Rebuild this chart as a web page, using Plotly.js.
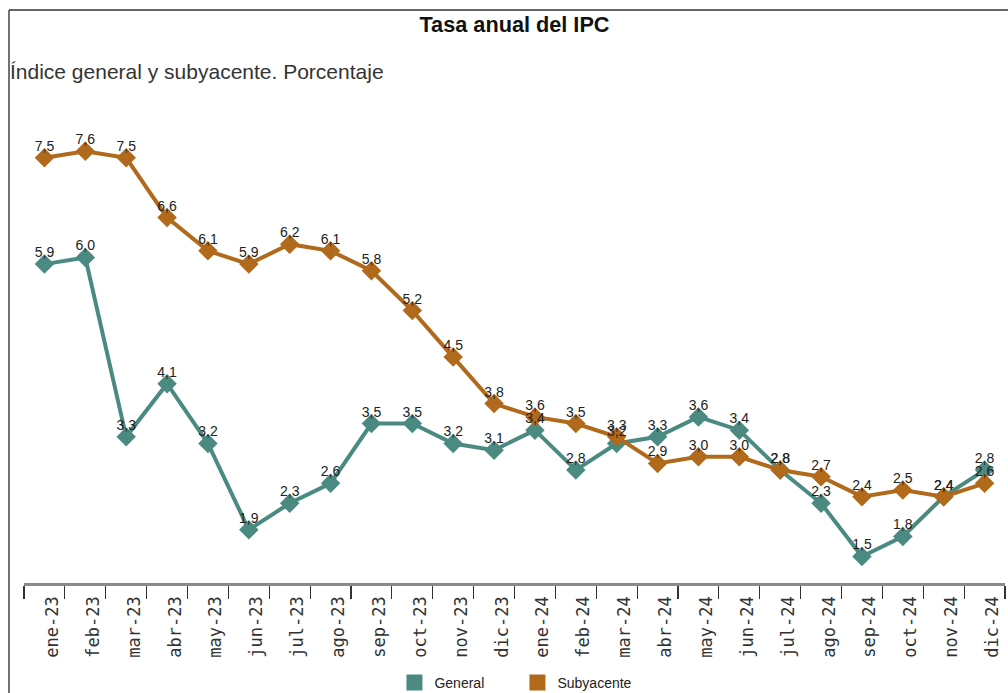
<!DOCTYPE html>
<html><head><meta charset="utf-8">
<script src="https://cdn.plot.ly/plotly-3.0.1.min.js"></script>
<style>html,body{margin:0;padding:0;background:#fff}#chart{width:1008px;height:693px}</style>
</head><body><div id="chart"></div>
<script>
const months = ["ene-23","feb-23","mar-23","abr-23","may-23","jun-23","jul-23","ago-23","sep-23","oct-23","nov-23","dic-23",
                "ene-24","feb-24","mar-24","abr-24","may-24","jun-24","jul-24","ago-24","sep-24","oct-24","nov-24","dic-24"];
const general = [5.9,6.0,3.3,4.1,3.2,1.9,2.3,2.6,3.5,3.5,3.2,3.1,3.4,2.8,3.2,3.3,3.6,3.4,2.8,2.3,1.5,1.8,2.4,2.8];
const subyacente = [7.5,7.6,7.5,6.6,6.1,5.9,6.2,6.1,5.8,5.2,4.5,3.8,3.6,3.5,3.3,2.9,3.0,3.0,2.8,2.7,2.4,2.5,2.4,2.6];
const cGeneral = "#4b8a81";
const cSub = "#b1691b";

function lineTrace(name, y, color){
  return {type:"scatter", mode:"lines+markers", name:name, x:months, y:y,
    line:{color:color, width:4},
    marker:{symbol:"diamond", size:15, color:color},
    showlegend:false, cliponaxis:false, hoverinfo:"x+y"};
}
function labelTrace(y){
  return {type:"scatter", mode:"markers+text", x:months, y:y,
    marker:{size:4, opacity:0},
    texttemplate:"%{y:.1f}", textposition:"top center",
    textfont:{family:"Liberation Sans, Arial, sans-serif", size:14, color:"#222"},
    showlegend:false, cliponaxis:false, hoverinfo:"skip"};
}
function legendTrace(name, color){
  return {type:"scatter", mode:"markers", name:name, x:[months[0]], y:[null],
    marker:{symbol:"square", size:16, color:color}, showlegend:true, hoverinfo:"skip"};
}
const traces = [
  lineTrace("General", general, cGeneral),
  lineTrace("Subyacente", subyacente, cSub),
  labelTrace(general),
  labelTrace(subyacente),
  legendTrace("General", cGeneral),
  legendTrace("Subyacente", cSub)
];
const layout = {
  width:1008, height:693,
  margin:{l:24, r:3, t:100, b:110, autoexpand:false},
  paper_bgcolor:"#fff", plot_bgcolor:"#fff",
  separators:",.",
  font:{family:"Liberation Sans, Arial, sans-serif", color:"#222"},
  title:{text:"<b>Tasa anual del IPC</b>", x:0.5, xref:"paper", xanchor:"center", y:0.965, yref:"container", yanchor:"middle",
         font:{size:21.7, color:"#111"}},
  xaxis:{type:"category", range:[-0.5,23.5], tickson:"boundaries", ticks:"outside", ticklen:13, tickwidth:1.2, tickcolor:"#333",
         showline:true, linecolor:"#8a8a8a", linewidth:2.5, showgrid:false, zeroline:false, automargin:false,
         tickangle:-90, ticklabelshift:8, ticklabelstandoff:4,
         tickfont:{family:"DejaVu Sans Mono, monospace", size:17, color:"#333"}},
  yaxis:{range:[1.1,8.37], visible:false, showgrid:false, zeroline:false, automargin:false},
  showlegend:true,
  legend:{orientation:"h", x:0.503, xanchor:"center", y:-0.207, yanchor:"middle",
          font:{family:"Liberation Sans Narrow, Liberation Sans, Arial", size:14, color:"#222"},
          itemwidth:30, entrywidth:78, entrywidthmode:"pixels", traceorder:"normal", bgcolor:"rgba(0,0,0,0)"},
  annotations:[
    {text:"Índice general y subyacente. Porcentaje", xref:"paper", yref:"paper", x:-0.016, xanchor:"left",
     y:(583-72)/483, yanchor:"middle", showarrow:false, font:{size:21, color:"#333"}}
  ],
  shapes:[
    {type:"line", xref:"paper", yref:"paper", x0:-0.0153, x1:1.003, y0:(583-10)/483, y1:(583-10)/483, line:{color:"#666", width:2}},
    {type:"line", xref:"paper", yref:"paper", x0:-0.0153, x1:-0.0153, y0:(583-10)/483, y1:-0.23, line:{color:"#444", width:1.5}}
  ]
};
Plotly.newPlot("chart", traces, layout, {displayModeBar:false, staticPlot:true});
</script></body></html>
